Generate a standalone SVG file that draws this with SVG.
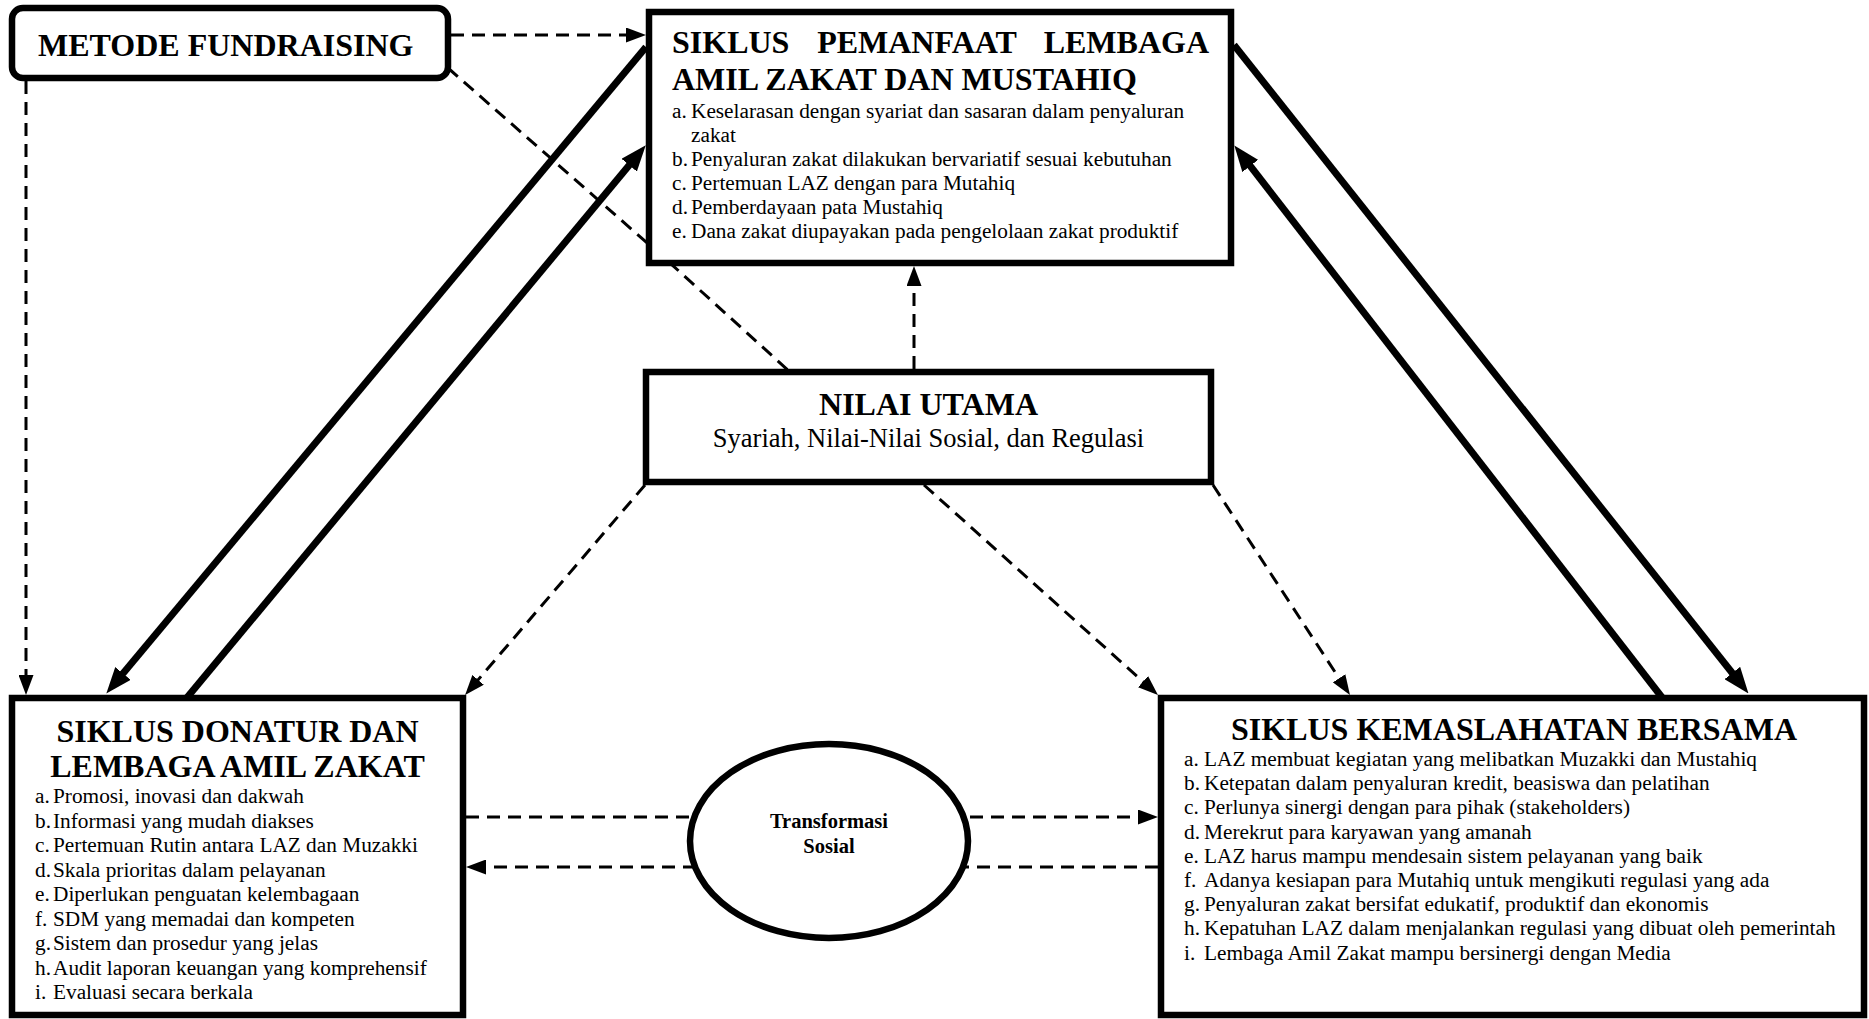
<svg xmlns="http://www.w3.org/2000/svg" width="1869" height="1019" viewBox="0 0 1869 1019">
<style>
.box{fill:#fff;stroke:#000;stroke-width:6.5}
.thick{fill:none;stroke:#000;stroke-width:7}
.dash{fill:none;stroke:#000;stroke-width:3;stroke-dasharray:13 8}
.t{font-family:"Liberation Serif","Times New Roman",serif;fill:#000}
.title{font-size:32px;font-weight:bold}
.body{font-size:21.3px}
.sub{font-size:26.5px}
.ell{font-size:20.5px;font-weight:bold}
</style>
<defs>
<marker id="ah" markerUnits="userSpaceOnUse" markerWidth="26" markerHeight="20" refX="14" refY="10" orient="auto">
<path d="M0,0 L26,10 L0,20 z" fill="#000"/>
</marker>
<marker id="ad" markerUnits="userSpaceOnUse" markerWidth="20" markerHeight="15" refX="10" refY="7.5" orient="auto">
<path d="M0,0 L20,7.5 L0,15 z" fill="#000"/>
</marker>
</defs>
<g id="connectors">
<!-- thick solid -->
<line class="thick" x1="646" y1="47" x2="114.0" y2="684.2" marker-end="url(#ah)"/>
<line class="thick" x1="185" y1="700" x2="638.1" y2="154.4" marker-end="url(#ah)"/>
<line class="thick" x1="1234" y1="45" x2="1741.0" y2="684.0" marker-end="url(#ah)"/>
<line class="thick" x1="1664" y1="700" x2="1241.7" y2="154.9" marker-end="url(#ah)"/>
<!-- dashed -->
<line class="dash" x1="451" y1="35" x2="636" y2="35" marker-end="url(#ad)"/>
<line class="dash" x1="26" y1="81" x2="26" y2="685" marker-end="url(#ad)"/>
<polyline class="dash" points="448,68 670,263 790,372"/>
<line class="dash" x1="914" y1="369" x2="914" y2="276" marker-end="url(#ad)"/>
<line class="dash" x1="645" y1="485" x2="471.6" y2="687.4" marker-end="url(#ad)"/>
<line class="dash" x1="924" y1="485" x2="1150.5" y2="688.3" marker-end="url(#ad)"/>
<line class="dash" x1="1213" y1="485" x2="1344.5" y2="686.6" marker-end="url(#ad)"/>
<line class="dash" x1="466" y1="817" x2="1148" y2="817" marker-end="url(#ad)"/>
<line class="dash" x1="1158" y1="867" x2="476" y2="867" marker-end="url(#ad)"/>
</g>
<g id="metode">
<rect class="box" x="12" y="8" width="436" height="70" rx="11"/>
<text class="t title" x="38" y="56">METODE FUNDRAISING</text>
</g>
<g id="siklus-pemanfaat">
<rect class="box" x="649" y="12" width="582" height="251"/>
<text class="t title" x="672" y="53">SIKLUS</text>
<text class="t title" x="917" y="53" text-anchor="middle">PEMANFAAT</text>
<text class="t title" x="1209" y="53" text-anchor="end">LEMBAGA</text>
<text class="t title" x="672" y="90">AMIL ZAKAT DAN MUSTAHIQ</text>
<g class="t body">
<text x="672" y="118">a.</text><text x="691" y="118">Keselarasan dengan syariat dan sasaran dalam penyaluran</text>
<text x="691" y="142">zakat</text>
<text x="672" y="166">b.</text><text x="691" y="166">Penyaluran zakat dilakukan bervariatif sesuai kebutuhan</text>
<text x="672" y="190">c.</text><text x="691" y="190">Pertemuan LAZ dengan para Mutahiq</text>
<text x="672" y="214">d.</text><text x="691" y="214">Pemberdayaan pata Mustahiq</text>
<text x="672" y="238">e.</text><text x="691" y="238">Dana zakat diupayakan pada pengelolaan zakat produktif</text>
</g>
</g>
<g id="nilai-utama">
<rect class="box" x="646" y="372" width="565" height="110"/>
<text class="t title" x="928.5" y="415" text-anchor="middle">NILAI UTAMA</text>
<text class="t sub" x="928.5" y="447" text-anchor="middle">Syariah, Nilai-Nilai Sosial, dan Regulasi</text>
</g>
<g id="siklus-donatur">
<rect class="box" x="12" y="698" width="451" height="317"/>
<text class="t title" x="237.5" y="742" text-anchor="middle">SIKLUS DONATUR DAN</text>
<text class="t title" x="237.5" y="777" text-anchor="middle">LEMBAGA AMIL ZAKAT</text>
<g class="t body">
<text x="35" y="803">a.</text><text x="53" y="803">Promosi, inovasi dan dakwah</text>
<text x="35" y="827.5">b.</text><text x="53" y="827.5">Informasi yang mudah diakses</text>
<text x="35" y="852">c.</text><text x="53" y="852">Pertemuan Rutin antara LAZ dan Muzakki</text>
<text x="35" y="876.5">d.</text><text x="53" y="876.5">Skala prioritas dalam pelayanan</text>
<text x="35" y="901">e.</text><text x="53" y="901">Diperlukan penguatan kelembagaan</text>
<text x="35" y="925.5">f.</text><text x="53" y="925.5">SDM yang memadai dan kompeten</text>
<text x="35" y="950">g.</text><text x="53" y="950">Sistem dan prosedur yang jelas</text>
<text x="35" y="974.5">h.</text><text x="53" y="974.5">Audit laporan keuangan yang komprehensif</text>
<text x="35" y="999">i.</text><text x="53" y="999">Evaluasi secara berkala</text>
</g>
</g>
<g id="siklus-kemaslahatan">
<rect class="box" x="1161" y="698" width="703" height="317"/>
<text class="t title" x="1514" y="740" text-anchor="middle">SIKLUS KEMASLAHATAN BERSAMA</text>
<g class="t body">
<text x="1184" y="766">a.</text><text x="1204" y="766">LAZ membuat kegiatan yang melibatkan Muzakki dan Mustahiq</text>
<text x="1184" y="790.2">b.</text><text x="1204" y="790.2">Ketepatan dalam penyaluran kredit, beasiswa dan pelatihan</text>
<text x="1184" y="814.4">c.</text><text x="1204" y="814.4">Perlunya sinergi dengan para pihak (stakeholders)</text>
<text x="1184" y="838.6">d.</text><text x="1204" y="838.6">Merekrut para karyawan yang amanah</text>
<text x="1184" y="862.8">e.</text><text x="1204" y="862.8">LAZ harus mampu mendesain sistem pelayanan yang baik</text>
<text x="1184" y="887">f.</text><text x="1204" y="887">Adanya kesiapan para Mutahiq untuk mengikuti regulasi yang ada</text>
<text x="1184" y="911.2">g.</text><text x="1204" y="911.2">Penyaluran zakat bersifat edukatif, produktif dan ekonomis</text>
<text x="1184" y="935.4">h.</text><text x="1204" y="935.4">Kepatuhan LAZ dalam menjalankan regulasi yang dibuat oleh pemerintah</text>
<text x="1184" y="959.6">i.</text><text x="1204" y="959.6">Lembaga Amil Zakat mampu bersinergi dengan Media</text>
</g>
</g>
<g id="transformasi-sosial">
<ellipse class="box" cx="829" cy="841" rx="139" ry="97"/>
<text class="t ell" x="829" y="828" text-anchor="middle">Transformasi</text>
<text class="t ell" x="829" y="853" text-anchor="middle">Sosial</text>
</g>
</svg>
